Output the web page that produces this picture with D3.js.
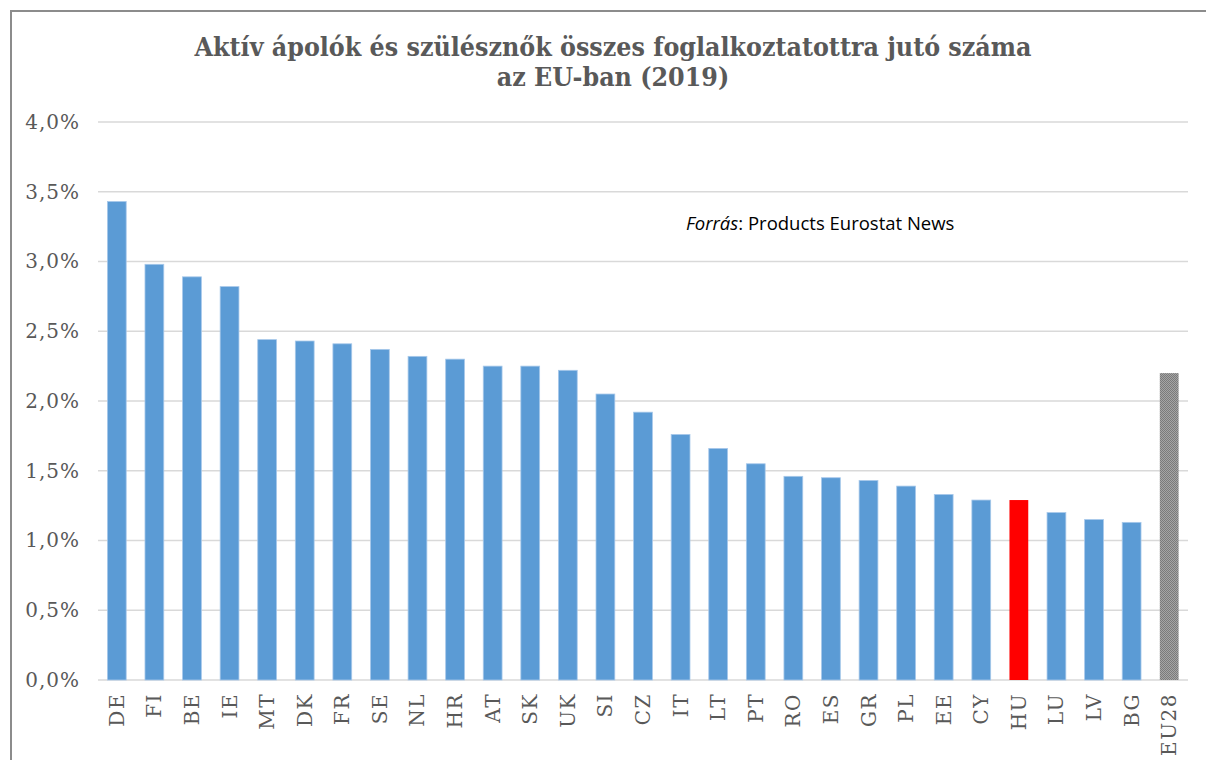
<!DOCTYPE html>
<html>
<head>
<meta charset="utf-8">
<script src="https://cdn.jsdelivr.net/npm/d3@7"></script>
<style>
  body { margin: 0; background: #fff; }
</style>
</head>
<body>
<div id="chart"></div>
<script>
// Data
const countries = ["DE", "FI", "BE", "IE", "MT", "DK", "FR", "SE", "NL", "HR", "AT", "SK", "UK", "SI", "CZ",
    "IT", "LT", "PT", "RO", "ES", "GR", "PL", "EE", "CY", "HU", "LU", "LV", "BG", "EU28"];
const shares = [3.43, 2.98, 2.89, 2.82, 2.44, 2.43, 2.41, 2.37, 2.32, 2.30, 2.25, 2.25, 2.22, 2.05, 1.92,
    1.76, 1.66, 1.55, 1.46, 1.45, 1.43, 1.39, 1.33, 1.29, 1.29, 1.20, 1.15, 1.13, 2.20];
const yTicks = [0, 0.5, 1, 1.5, 2, 2.5, 3, 3.5, 4];
const titleLines = ["Aktív ápolók és szülésznők összes foglalkoztatottra jutó száma", "az EU-ban (2019)"];

const width = 1206;
const height = 760;
const margin = {top: 122, right: 18, bottom: 80, left: 98};

const svg = d3.select("#chart").append("svg")
    .attr("width", width)
    .attr("height", height);

// pattern for the EU28 bar
const defs = svg.append("defs");
const pat = defs.append("pattern")
    .attr("id", "dots")
    .attr("width", 2)
    .attr("height", 2)
    .attr("patternUnits", "userSpaceOnUse");
pat.append("rect").attr("width", 2).attr("height", 2).attr("fill", "#a5a5a5");
pat.append("rect").attr("width", 1).attr("height", 1).attr("fill", "#7a7a7a");
pat.append("rect").attr("x", 1).attr("y", 1).attr("width", 1).attr("height", 1).attr("fill", "#7a7a7a");

// frame (left and top lines)
svg.append("path")
    .attr("d", "M11,760 V11 H1206")
    .attr("fill", "none")
    .attr("stroke", "#8c8c8c")
    .attr("stroke-width", 2);

// title
svg.append("g")
    .selectAll("text")
    .data(titleLines)
    .join("text")
    .attr("x", 613)
    .attr("y", (d, i) => 56 + i * 30)
    .attr("text-anchor", "middle")
    .attr("font-family", "DejaVu Serif Condensed, DejaVu Serif")
    .attr("font-weight", "bold")
    .attr("font-size", 26.5)
    .attr("fill", "#595959")
    .text(d => d);

const x = d3.scaleBand()
    .domain(countries)
    .range([margin.left, width - margin.right])
    .paddingInner(0.5)
    .paddingOuter(0.25);

const y = d3.scaleLinear()
    .domain([0, 4])
    .range([height - margin.bottom, margin.top]);

// gridlines
svg.append("g")
    .selectAll("line")
    .data(yTicks)
    .join("line")
    .attr("x1", margin.left)
    .attr("x2", width - margin.right)
    .attr("y1", d => y(d))
    .attr("y2", d => y(d))
    .attr("stroke", "#d9d9d9")
    .attr("stroke-width", 1.5);

// y axis labels
const yAxis = svg.append("g")
    .attr("transform", `translate(${margin.left},0)`)
    .call(d3.axisLeft(y).tickValues(yTicks).tickSize(0).tickPadding(18)
        .tickFormat(d => d3.format(".1f")(d).replace(".", ",") + "%"));
yAxis.select(".domain").remove();
yAxis.selectAll("text")
    .attr("font-family", "DejaVu Serif")
    .attr("font-size", 20)
    .attr("letter-spacing", 1)
    .attr("fill", "#595959");

// bars
const data = countries.map((c, i) => ({country: c, value: shares[i]}));
svg.append("g")
    .selectAll("rect")
    .data(data)
    .join("rect")
    .attr("x", d => x(d.country))
    .attr("width", x.bandwidth())
    .attr("y", d => y(d.value))
    .attr("height", d => y(0) - y(d.value))
    .attr("fill", d => d.country === "HU" ? "#ff0000" : d.country === "EU28" ? "url(#dots)" : "#5b9bd5")
    .attr("stroke", d => d.country === "HU" || d.country === "EU28" ? "none" : "#a7c8ea")
    .attr("stroke-width", 0.8);

// x axis
const xAxis = svg.append("g")
    .attr("transform", `translate(0,${y(0)})`)
    .call(d3.axisBottom(x).tickSize(0).tickPadding(0));
xAxis.select(".domain").remove();
xAxis.selectAll("text")
    .attr("transform", "rotate(-90)")
    .attr("text-anchor", "end")
    .attr("x", -13)
    .attr("y", 0)
    .attr("dy", "0.35em")
    .attr("font-family", "DejaVu Serif")
    .attr("font-size", 20)
    .attr("letter-spacing", 1.5)
    .attr("fill", "#595959");

// source note
const src = svg.append("text")
    .attr("x", 686)
    .attr("y", 230)
    .attr("font-family", "Open Sans, Noto Sans")
    .attr("font-size", 18.5)
    .attr("fill", "#000");
src.append("tspan").attr("font-style", "italic").text("Forrás");
src.append("tspan").text(": Products Eurostat News");
</script>
</body>
</html>
